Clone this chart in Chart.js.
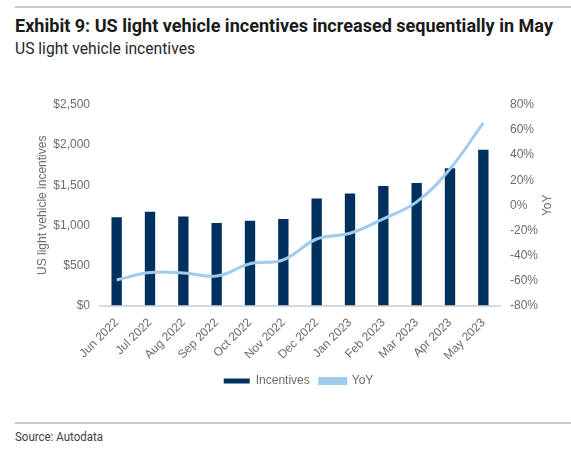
<!DOCTYPE html>
<html>
<head>
<meta charset="utf-8">
<script src="https://cdn.jsdelivr.net/npm/chart.js@4"></script>
<style>
  html, body { margin: 0; padding: 0; background: #fff; }
  body { width: 571px; height: 453px; position: relative; overflow: hidden; }
  .rule { position: absolute; left: 15px; right: 0; height: 2px; background: #c9c9c9; }
  .txt { position: absolute; left: 15px; white-space: nowrap; transform-origin: 0 50%;
         font-family: "Liberation Sans Narrow", "Roboto", "Liberation Sans", sans-serif; }
  #title { top: 15px; font-size: 18px; font-weight: bold; color: #1a1a1a; }
  #subtitle { top: 39px; font-size: 16px; color: #262626; }
  #source { top: 430px; font-size: 12px; color: #404040; }
  #wrap { position: absolute; left: 0; top: 80px; width: 571px; height: 317px; }
</style>
</head>
<body>
<div class="rule" style="top:6px"></div>
<div class="txt" id="title" data-w="538">Exhibit 9: US light vehicle incentives increased sequentially in May</div>
<div class="txt" id="subtitle" data-w="180">US light vehicle incentives</div>
<div id="wrap"><canvas id="chart"></canvas></div>
<div class="rule" style="top:422px"></div>
<div class="txt" id="source" data-w="88">Source: Autodata</div>
<script>
/* Exhibit 9: monthly incentives (bars, left $ axis) and YoY change (line, right % axis) */
var MONTHS = ['Jun 2022', 'Jul 2022', 'Aug 2022', 'Sep 2022', 'Oct 2022', 'Nov 2022',
  'Dec 2022', 'Jan 2023', 'Feb 2023', 'Mar 2023', 'Apr 2023', 'May 2023'];
var INCENTIVES = [1100, 1170, 1110, 1030, 1057, 1080, 1334, 1397, 1489, 1527, 1712, 1942];
var YOY = [-59.6, -53.7, -54, -56.4, -46.7, -43.5, -26.9, -22.3, -10.8, 2.7, 29, 65.8];
var LEFT_TICKS = [0, 500, 1000, 1500, 2000, 2500];
var RIGHT_TICKS = [-80, -60, -40, -20, 0, 20, 40, 60, 80];

(function () {
  // squeeze the texts to the width of the condensed face in the original
  Array.prototype.forEach.call(document.querySelectorAll('.txt'), function (el) {
    var w = el.getBoundingClientRect().width;
    var target = +el.getAttribute('data-w');
    if (w > 0) { el.style.transform = 'scaleX(' + (target / w) + ')'; }
  });

  var NAVY = '#00305e';
  var LIGHT = '#9fcbed';
  var GREY = '#6b6b6b';
  var tickFont = { family: '"Liberation Sans", Arial, sans-serif', size: 12 };

  /* right axis title reads bottom-to-top like the left one, so draw it by hand */
  var yoyTitle = {
    id: 'yoyTitle',
    afterDraw: function (chart) {
      var a = chart.chartArea, ctx = chart.ctx;
      ctx.save();
      ctx.translate(548, (a.top + a.bottom) / 2);
      ctx.rotate(-Math.PI / 2);
      ctx.fillStyle = GREY;
      ctx.font = '12px "Liberation Sans", Arial, sans-serif';
      ctx.textAlign = 'center';
      ctx.textBaseline = 'middle';
      ctx.fillText('YoY', 0, 0);
      ctx.restore();
    }
  };

  new Chart(document.getElementById('chart'), {
    data: {
      labels: MONTHS,
      datasets: [{
        type: 'line',
        label: 'YoY',
        data: YOY,
        yAxisID: 'yr',
        borderColor: LIGHT,
        backgroundColor: LIGHT,
        borderWidth: 3,
        pointRadius: 0,
        tension: 0.4,
        order: 0
      }, {
        type: 'bar',
        label: 'Incentives',
        data: INCENTIVES,
        yAxisID: 'yl',
        backgroundColor: NAVY,
        barPercentage: 0.31,
        categoryPercentage: 1,
        order: 1
      }]
    },
    plugins: [yoyTitle],
    options: {
      responsive: true,
      maintainAspectRatio: false,
      animation: false,
      layout: { padding: { top: 25, left: 26, right: 0, bottom: 0 } },
      plugins: {
        tooltip: { enabled: false },
        legend: {
          position: 'bottom',
          reverse: true,
          labels: {
            boxWidth: 26, boxHeight: 5, color: GREY, font: tickFont, padding: 10
          }
        }
      },
      scales: {
        x: {
          grid: { display: false },
          border: { display: true, color: '#d9d9d9', width: 2 },
          ticks: { color: GREY, font: tickFont, maxRotation: 45, minRotation: 45, padding: 2 }
        },
        yl: {
          position: 'left',
          min: 0, max: 2500,
          afterFit: function (s) { s.width = 74; },
          afterBuildTicks: function (s) { s.ticks = LEFT_TICKS.map(function (v) { return { value: v }; }); },
          grid: { display: false },
          border: { display: false },
          ticks: {
            color: GREY, font: tickFont, padding: 2,
            callback: function (v) { return '$' + v.toLocaleString('en-US'); }
          },
          title: { display: true, text: 'US light vehicle incentives', color: GREY, font: tickFont,
            padding: { top: 9, bottom: 0 } }
        },
        yr: {
          position: 'right',
          min: -80, max: 80,
          afterFit: function (s) { s.width = 71; },
          afterBuildTicks: function (s) { s.ticks = RIGHT_TICKS.map(function (v) { return { value: v }; }); },
          grid: { display: false },
          border: { display: false },
          ticks: {
            color: GREY, font: tickFont, padding: 2,
            callback: function (v) { return v + '%'; }
          }
        }
      }
    }
  });
})();
</script>
</body>
</html>
